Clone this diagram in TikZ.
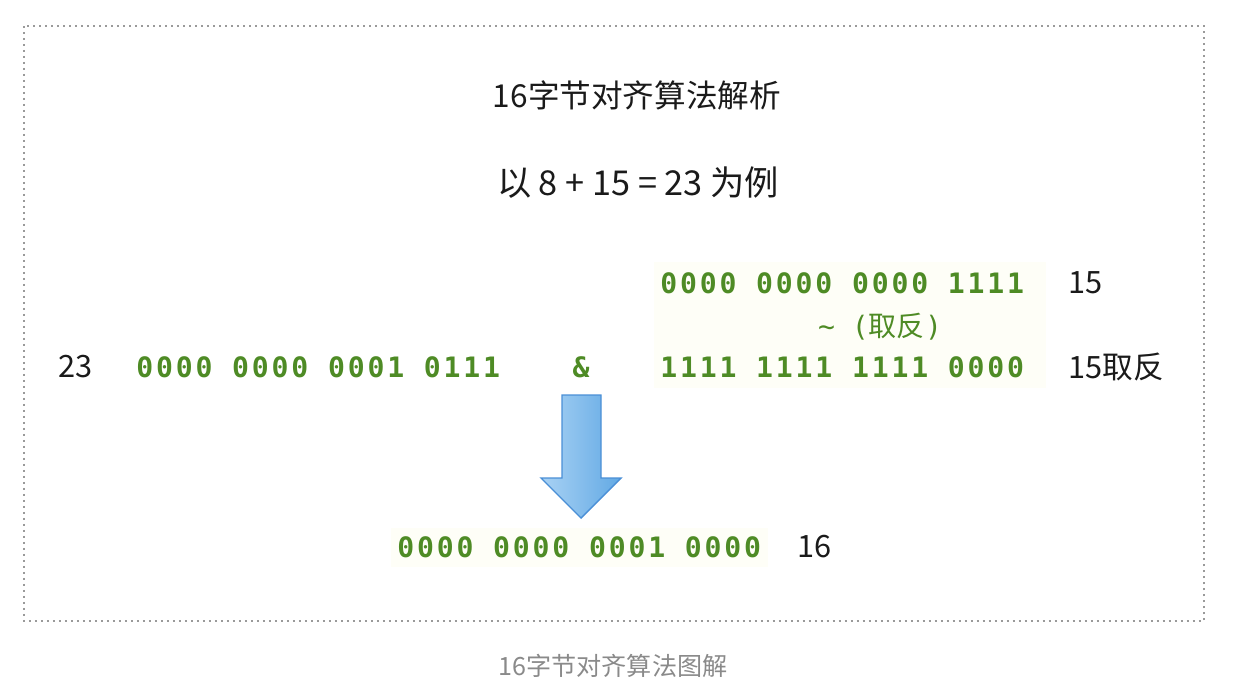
\documentclass[tikz,border=0pt]{standalone}
\usepackage{fontspec}
\usepackage{xcolor}
\usepackage{tikz}
\usetikzlibrary{
  positioning
}
\setmainfont{Noto Sans CJK SC}
\newfontfamily\codefont[LetterSpace=10]{DejaVu Sans Mono Bold}
\newfontfamily\codereg{DejaVu Sans Mono}
\definecolor{alCode}{HTML}{4E8B25}
\definecolor{alText}{HTML}{1A1A1A}
\definecolor{alCap}{HTML}{8A8A8A}
\definecolor{alFrame}{HTML}{9A9A9A}
\definecolor{alBg}{HTML}{FEFEF7}
\definecolor{alArrowL}{HTML}{A9D2F4}
\definecolor{alArrowR}{HTML}{62A9E4}
\definecolor{alArrowD}{HTML}{4A8FD6}
\tikzset{
  frame/.style={draw=alFrame, line width=0.7pt, dash pattern=on 0.04cm off 0.08cm},
  headline/.style={font=\fontsize{18}{22}\selectfont, text=alText, inner sep=0pt},
  bits/.style={font=\fontsize{16}{19}\codefont, text=alCode, inner sep=0pt, anchor=west},
  numlabel/.style={font=\fontsize{17.5}{20}\selectfont, text=alText, inner sep=0pt, anchor=west},
  notop/.style={font=\fontsize{16}{19}\selectfont, text=alCode, inner sep=0pt},
  hilite/.style={fill=alBg, draw=none},
  downarrow/.style={draw=alArrowD, line width=0.8pt, left color=alArrowL, right color=alArrowR},
  caption/.style={font=\fontsize{14.3}{17}\selectfont, text=alCap, inner sep=0pt}
}

\begin{document}
\begin{tikzpicture}[x=0.02cm, y=-0.02cm]
  \useasboundingbox (0,0) rectangle (1238,694);
  \draw[frame] (24,26) rectangle (1204,621);
  % faint highlight behind the code
  \fill[hilite] (654,262) rectangle (1046,388);
  \fill[hilite] (391,528) rectangle (768,567);

  \node[headline] (title) at (637,95) {16字节对齐算法解析};
  \node[headline, font=\fontsize{19.5}{22}\selectfont] (sub) at (638,183) {以 8 + 15 = 23 为例};

  \node[bits] (b15) at (660,283) {0000 0000 0000 1111};
  \node[notop] (inv) at (880,327) {{\codereg\string~ (}取反{\codereg)}};
  \node[bits] (b15inv) at (660,367) {1111 1111 1111 0000};
  \node[bits] (b23) at (136,367) {0000 0000 0001 0111};
  \node[notop, font=\fontsize{16}{19}\codefont] (andop) at (581,367) {\&};
  \node[bits] (res) at (397,547) {0000 0000 0001 0000};

  \node[numlabel] (l15) at (1068,283) {15};
  \node[numlabel] (l15inv) at (1068,367) {15取反};
  \node[numlabel] (l23) at (58,367) {23};
  \node[numlabel] (l16) at (797,547) {16};

  % the big down arrow
  \coordinate (tip) at (581,518);
  \path[downarrow] (562,395) -- (601,395) -- (601,478) -- (621,478)
    -- (tip) -- (541,478) -- (562,478) -- cycle;

  \node[caption] (cap) at (613,666) {16字节对齐算法图解};
\end{tikzpicture}
\end{document}
